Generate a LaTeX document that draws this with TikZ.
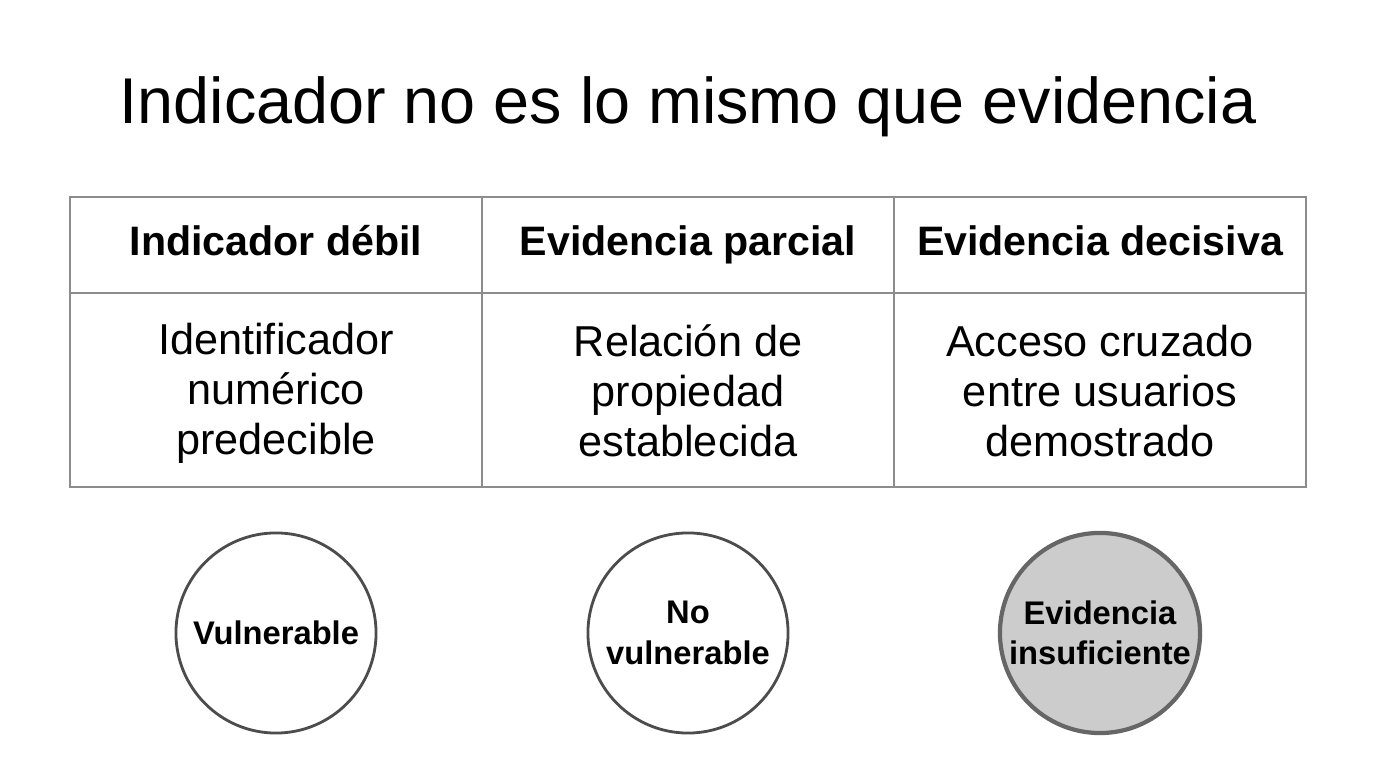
\documentclass[tikz,border=0pt]{standalone}
\usepackage{fontspec}
\setmainfont{Liberation Sans}
\begin{document}
\begin{tikzpicture}[x=0.01cm,y=-0.01cm,
    cell/.style={font=\fontsize{12.3}{14.2}\selectfont,align=center},
    head/.style={font=\fontsize{11.7}{14}\selectfont\bfseries,text height=9pt,text depth=3pt},
    verdict/.style={circle,draw=black!70,line width=0.8pt,minimum size=2cm,inner sep=0pt,
      font=\fontsize{9.3}{11.5}\selectfont\bfseries,align=center}]
  \useasboundingbox (0,0) rectangle (1376,768);
  \node (title) at (688,107) {\fontsize{18.4}{22}\selectfont Indicador no es lo mismo que evidencia};
  % table
  \draw[black!45,line width=0.6pt] (70,197) rectangle (1306,487);
  \draw[black!45,line width=0.6pt] (70,293) -- (1306,293);
  \foreach \x in {482,894} {
    \draw[black!45,line width=0.6pt] (\x,197) -- (\x,487);
  }
  \node[head] (h1) at (276,245) {Indicador débil};
  \node[head] (h2) at (688,245) {Evidencia parcial};
  \node[head] (h3) at (1100,245) {Evidencia decisiva};
  \node[cell] (c1) at (276,393) {Identificador\\numérico\\predecible};
  \node[cell] (c2) at (688,391) {Relación de\\propiedad\\establecida};
  \node[cell] (c3) at (1100,391) {Acceso cruzado\\entre usuarios\\demostrado};
  % verdicts
  \node[verdict] (v1) at (276,633) {Vulnerable};
  \node[verdict] (v2) at (688,633) {No\\vulnerable};
  \node[verdict,fill=black!20,draw=black!60,line width=1.2pt] (v3) at (1100,633) {Evidencia\\insuficiente};
\end{tikzpicture}
\end{document}
